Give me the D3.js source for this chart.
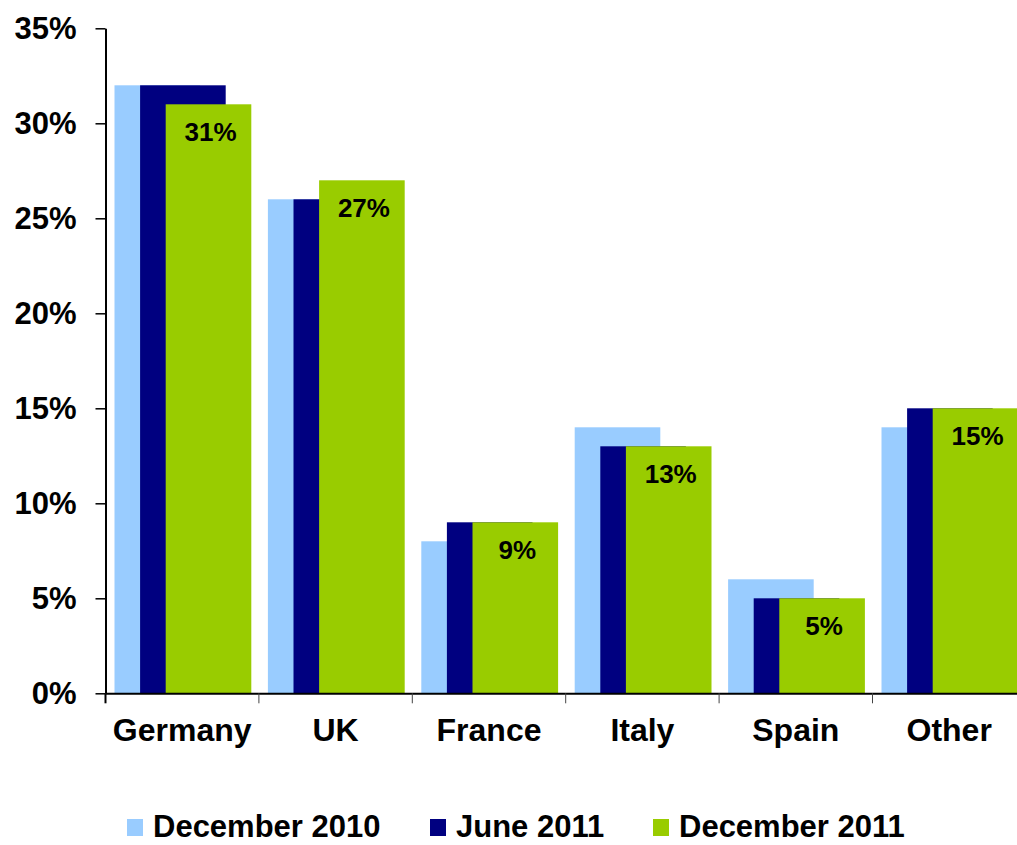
<!DOCTYPE html>
<html>
<head>
<meta charset="utf-8">
<script src="https://cdn.jsdelivr.net/npm/d3@7"></script>
<style>
	body { margin: 0; background: #fff; }
	svg { display: block; font-family: "Liberation Sans", Arial, sans-serif; font-weight: bold; }
</style>
</head>
<body>
<svg class="chart" width="1017" height="845"></svg>
<script>
// Data
const categories = ["Germany", "UK", "France", "Italy", "Spain", "Other"];
const series = ["December 2010", "June 2011", "December 2011"];
const dec2010 = [32, 26, 8, 14, 6, 14];
const jun2011 = [32, 26, 9, 13, 5, 15];
const dec2011 = [31, 27, 9, 13, 5, 15];
const yTicks = [0, 5, 10, 15, 20, 25, 30, 35];

const colors = ["#99CCFF", "#000080", "#99CC00"];
const values = [dec2010, jun2011, dec2011];

////////////////////////////////////////////////////////////
//// Setup /////////////////////////////////////////////////
////////////////////////////////////////////////////////////
const svg = d3.select(".chart");
const left = 105.5;
const catWidth = 153.4;
const barWidth = 85.6;

const x = d3.scaleBand()
	.domain(categories)
	.range([left, left + categories.length * catWidth])
	.padding(0);

// overlapping bars inside each category
const xSeries = d3.scalePoint()
	.domain(series)
	.range([9, 9 + 2 * 25.6]);

const y = d3.scaleLinear().domain([0, 35]).range([693.3, 28.3]);

////////////////////////////////////////////////////////////
//// Bars //////////////////////////////////////////////////
////////////////////////////////////////////////////////////
series.forEach((s, si) => {
	svg.append("g")
		.selectAll("rect")
		.data(categories.map((c, i) => ({ c, v: values[si][i] })))
		.join("rect")
		.attr("x", d => x(d.c) + xSeries(s))
		.attr("y", d => y(d.v))
		.attr("width", barWidth)
		.attr("height", d => y(0) - y(d.v))
		.attr("fill", colors[si]);
});

// labels on last series
svg.append("g")
	.selectAll("text")
	.data(categories.map((c, i) => ({ c, v: dec2011[i] })))
	.join("text")
	.attr("x", d => x(d.c) + xSeries(series[2]) + barWidth / 2 + 2)
	.attr("y", d => y(d.v) + 37)
	.attr("text-anchor", "middle")
	.attr("font-size", 26)
	.attr("fill", "#000")
	.text(d => d.v + "%");

////////////////////////////////////////////////////////////
//// Axes //////////////////////////////////////////////////
////////////////////////////////////////////////////////////
const yAxis = svg.append("g")
	.attr("transform", `translate(${left},0)`)
	.call(d3.axisLeft(y).tickValues(yTicks).tickFormat(d => d + "%").tickSize(10).tickSizeOuter(0).tickPadding(19));
yAxis.select(".domain").attr("stroke", "#000").attr("stroke-width", 2);
yAxis.selectAll(".tick line").attr("stroke", "#000").attr("stroke-width", 1.5);
yAxis.selectAll("text")
	.attr("font-size", 31)
	.attr("font-family", "Liberation Sans, Arial, sans-serif")
	.attr("font-weight", "bold")
	.attr("fill", "#000");

const xAxis = svg.append("g")
	.attr("transform", `translate(0,${y(0)})`)
	.call(d3.axisBottom(x).tickSize(0).tickSizeOuter(0).tickPadding(25));
xAxis.select(".domain").attr("stroke", "#000").attr("stroke-width", 2);
xAxis.selectAll("text")
	.attr("font-size", 32)
	.attr("font-family", "Liberation Sans, Arial, sans-serif")
	.attr("font-weight", "bold")
	.attr("fill", "#000");

// tick marks between categories
xAxis.append("g")
	.selectAll("line")
	.data(categories.slice(1))
	.join("line")
	.attr("x1", d => x(d))
	.attr("x2", d => x(d))
	.attr("y1", 0)
	.attr("y2", 10)
	.attr("stroke", "#444")
	.attr("stroke-width", 1);
xAxis.append("line")
	.attr("x1", left).attr("x2", left)
	.attr("y1", 0).attr("y2", 10)
	.attr("stroke", "#000").attr("stroke-width", 2);

////////////////////////////////////////////////////////////
//// Legend ////////////////////////////////////////////////
////////////////////////////////////////////////////////////
const legendX = [127, 430, 653];
const legend = svg.append("g").attr("transform", "translate(0,818)");
series.forEach((s, i) => {
	const item = legend.append("g").attr("transform", `translate(${legendX[i]},0)`);
	item.append("rect")
		.attr("y", 1)
		.attr("width", 16)
		.attr("height", 17)
		.attr("fill", colors[i]);
	item.append("text")
		.attr("x", 26)
		.attr("y", 19)
		.attr("font-size", 31)
		.attr("fill", "#000")
		.text(s);
});
</script>
</body>
</html>
